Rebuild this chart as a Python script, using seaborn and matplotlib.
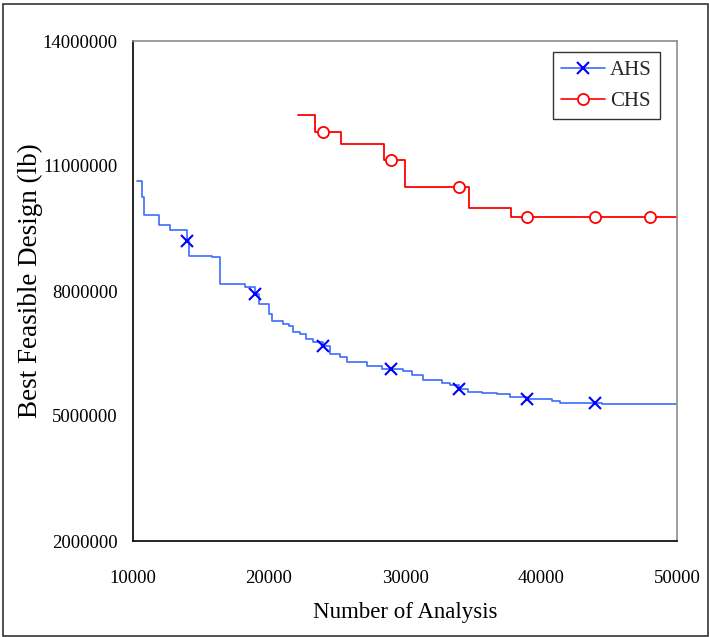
import matplotlib
matplotlib.use("Agg")
import matplotlib.pyplot as plt
import seaborn as sns
import pandas as pd
from matplotlib.lines import Line2D
from matplotlib.patches import Rectangle

# ---- data ----
ahs_x = [10300, 10650, 10780, 11930, 12720, 14000, 14100, 15790, 16400, 18240,
         19000, 19300, 20000, 20200, 21050, 21490, 21790, 22280, 22720, 23260,
         24000, 24500, 25220, 25710, 27180, 28290, 29000, 29830, 30490, 31350,
         32700, 33310, 34000, 34660, 35640, 36740, 37720, 39000, 39800, 40780,
         41400, 44000, 44500, 50000]
ahs_y = [10650000, 10250000, 9820000, 9580000, 9460000, 9200000, 8850000, 8810000, 8160000, 8090000,
         7930000, 7680000, 7450000, 7290000, 7220000, 7160000, 7020000, 6970000, 6860000, 6780000,
         6690000, 6490000, 6410000, 6300000, 6210000, 6130000, 6120000, 6080000, 5980000, 5860000,
         5800000, 5740000, 5660000, 5580000, 5560000, 5520000, 5460000, 5420000, 5400000, 5360000,
         5320000, 5320000, 5290000, 5290000]
ahs_mark_x = [14000, 19000, 24000, 29000, 34000, 39000, 44000]
ahs_mark_y = [9200000, 7930000, 6690000, 6120000, 5660000, 5420000, 5320000]

chs_x = [22110, 23350, 24000, 25300, 28470, 29000, 30000, 34000, 34730, 37800,
         39000, 44000, 48000, 50000]
chs_y = [12230000, 11820000, 11820000, 11540000, 11140000, 11140000, 10500000, 10500000, 10000000, 9780000,
         9780000, 9780000, 9780000, 9780000]
chs_mark_x = [24000, 29000, 34000, 39000, 44000, 48000]
chs_mark_y = [11820000, 11140000, 10500000, 9780000, 9780000, 9780000]

x_ticks = [10000, 20000, 30000, 40000, 50000]
y_ticks = [2000000, 5000000, 8000000, 11000000, 14000000]
series_names = ["AHS", "CHS"]

# ---- style ----
sns.set_theme(style="white")
plt.rcParams["font.family"] = ["Liberation Serif", "DejaVu Serif"]

fig = plt.figure(figsize=(7.09, 6.37), dpi=100)
ax = fig.add_axes([133/709, 1 - 541/637, (677-133)/709, (541-41)/637])

ahs_col_line = "#3d6bff"
ahs_col_mark = "#0000ff"
chs_col = "#ff0000"

ahs_df = pd.DataFrame({"x": ahs_x, "y": ahs_y})
chs_df = pd.DataFrame({"x": chs_x, "y": chs_y})
sns.lineplot(data=ahs_df, x="x", y="y", ax=ax, color=ahs_col_line, lw=1.2,
             drawstyle="steps-post", estimator=None, sort=False)
sns.lineplot(data=chs_df, x="x", y="y", ax=ax, color=chs_col, lw=1.3,
             drawstyle="steps-post", estimator=None, sort=False)

ax.plot(ahs_mark_x, ahs_mark_y, ls="none", marker="x", ms=9, mew=1.5,
        color=ahs_col_mark, zorder=5)
ax.plot(chs_mark_x, chs_mark_y, ls="none", marker="o", ms=8, mew=1.3,
        mec=chs_col, mfc="white", zorder=5)

ax.set_xlim(10000, 50000)
ax.set_ylim(2000000, 14000000)
ax.set_xticks(x_ticks)
ax.set_xticklabels([str(v) for v in x_ticks])
ax.set_yticks(y_ticks)
ax.set_yticklabels([str(v) for v in y_ticks])
ax.tick_params(axis="both", which="major", direction="out", length=5, width=1,
               color="black", labelsize=13.5, labelcolor="black", pad=3)
ax.tick_params(axis="x", pad=16)
ax.tick_params(axis="y", pad=6)

for s in ["left", "bottom"]:
    ax.spines[s].set_color("black")
    ax.spines[s].set_linewidth(1.2)
for s in ["top", "right"]:
    ax.spines[s].set_color("#8c8c8c")
    ax.spines[s].set_linewidth(1.2)

ax.set_xlabel("Number of Analysis", fontsize=16.5, labelpad=11, color="black")
ax.set_ylabel("Best Feasible Design (lb)", fontsize=19.5, color="black")
ax.yaxis.set_label_coords(-0.166, 0.52)

handles = [
    Line2D([], [], color=ahs_col_line, lw=1.2, marker="x", ms=9, mew=1.5,
           mec=ahs_col_mark),
    Line2D([], [], color=chs_col, lw=1.2, marker="o", ms=8, mew=1.3,
           mec=chs_col, mfc="white"),
]
leg = ax.legend(handles, series_names, loc="upper right",
                bbox_to_anchor=(0.969, 0.978), fontsize=15, frameon=True,
                fancybox=False, edgecolor="black", handlelength=2.1,
                borderpad=0.4, labelspacing=0.55, handletextpad=0.25,
                borderaxespad=0)
leg.get_frame().set_linewidth(1.0)

fig.patches.append(Rectangle((3/709, 1/637), 705/709, 632/637, transform=fig.transFigure,
                             fill=False, edgecolor="#333333", lw=1.2))

fig.savefig("out.png", dpi=100)
